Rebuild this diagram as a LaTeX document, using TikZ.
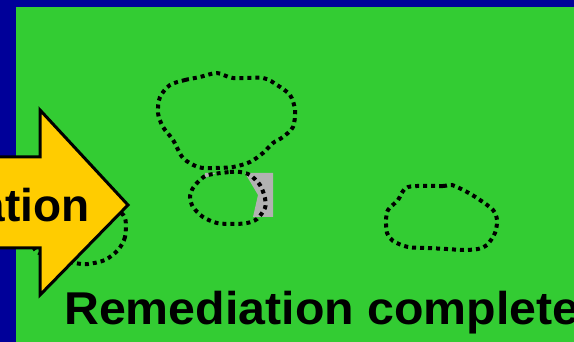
\documentclass[tikz,border=0pt]{standalone}
\usepackage{fontspec}
\setmainfont{Liberation Sans}
\definecolor{framebg}{RGB}{0, 0, 153}
\definecolor{sitegreen}{RGB}{51, 204, 51}
\definecolor{arrowfill}{RGB}{255, 204, 0}
\definecolor{patchgray}{RGB}{178, 178, 178}
\tikzset{
    plume/.style={line width=4pt, dash pattern=on 4pt off 4pt},
    bigtext/.style={inner sep=0pt, font=\bfseries\fontsize{46}{50}\selectfont},
}

\begin{document}
\begin{tikzpicture}[x=1pt, y=-1pt]
        \useasboundingbox (0, 0) rectangle (574, 342);
        \clip (0, 0) rectangle (574, 342);
        \fill[framebg] (0, 0) rectangle (574, 342);
        \fill[sitegreen] (16, 7) rectangle (574, 342);
        % leftover patch next to the small plume
        \fill[patchgray] (245, 173) -- (273, 173) -- (273, 217) -- (253, 217)
            -- (258, 195) -- cycle;
        \fill[patchgray] (205, 173) -- (216, 173) -- (205, 178) -- cycle;
        \draw[plume] plot[smooth cycle, tension=0.5] coordinates {(170, 85)
            (185, 80) (200, 77) (217, 73) (233, 78) (263, 78) (277, 85)
            (290, 95) (295, 110) (293, 127) (283, 137) (273, 143) (263, 153)
            (250, 162) (233, 167) (213, 168) (198, 167) (183, 158) (173, 140)
            (163, 127) (158, 113) (160, 97)};
        \draw[plume] plot[smooth cycle, tension=0.5] coordinates {(208, 175)
            (230, 172) (240, 172) (250, 175) (260, 185) (265, 198) (265, 208)
            (257, 219) (247, 223) (233, 224) (217, 223) (203, 217) (193, 207)
            (190, 197) (193, 188) (200, 180)};
        \draw[plume] plot[smooth cycle, tension=0.5] coordinates {(408, 187)
            (443, 186) (452, 185) (467, 192) (480, 200) (493, 210) (497, 220)
            (495, 233) (487, 245) (478, 249) (463, 250) (447, 249) (427, 248)
            (408, 247) (393, 241) (387, 233) (386, 220) (388, 210) (398, 200)};
        \draw[plume] plot[smooth cycle, tension=0.5] coordinates {(125, 218)
            (125, 237) (118, 250) (105, 260) (88, 264) (75, 263) (52, 257)
            (36, 251) (34, 238) (55, 215) (90, 208) (115, 210)};
        % big arrow
        \draw[line width=3pt, line join=miter, fill=arrowfill] (-10, 157)
            -- (40, 157) -- (40, 110) -- (128, 205) -- (40, 295) -- (40, 248)
            -- (-10, 248) -- cycle;
        \node[bigtext, anchor=base east] (stage) at (90, 222) {ation};
        \node[bigtext, anchor=base west, xscale=1.05] (status) at (64, 325)
            {Remediation complete};
    \end{tikzpicture}
\end{document}
